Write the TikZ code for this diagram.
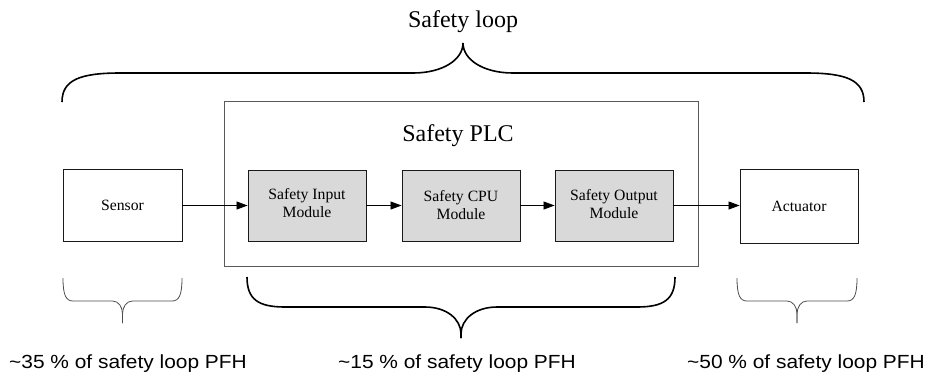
\documentclass[tikz,border=0pt]{standalone}
\usepackage{fontspec}
\setmainfont{Liberation Serif}
\newfontfamily\arialw[FakeStretch=1.1]{Liberation Sans}
\usetikzlibrary{arrows.meta}
% #1 style, #2 xl, #3 xr, #4 yend, #5 yh, #6 ytip, #7 corner dx, #8 tip dx, #9 stem
\newcommand\drawbrace[9]{%
  \pgfmathsetmacro\bxm{(#2+#3)/2}%
  \pgfmathsetmacro\bys{#6+(#5-#6)/abs(#5-#6)*#9}%
  \draw[#1] (#2,#4) .. controls (#2,{#4+(#5-#4)*0.75}) and ({#2+#7*0.3},#5) .. ({#2+#7},#5)
    -- ({\bxm-#8},#5) .. controls ({\bxm-#8*0.4},#5) and (\bxm,{#5+(\bys-#5)*0.45}) .. (\bxm,\bys) -- (\bxm,#6);
  \draw[#1] (\bxm,#6) -- (\bxm,\bys) .. controls (\bxm,{#5+(\bys-#5)*0.45}) and ({\bxm+#8*0.4},#5) .. ({\bxm+#8},#5)
    -- ({#3-#7},#5) .. controls ({#3-#7*0.3},#5) and (#3,{#4+(#5-#4)*0.75}) .. (#3,#4);
}
\tikzset{
  plain/.style={draw=black!90, line width=0.9pt, fill=white, minimum width=119pt, minimum height=72pt, inner sep=0pt,
    font=\fontsize{15.7}{18}\selectfont, align=center},
  module/.style={plain, fill=black!15, minimum width=118pt, minimum height=71pt},
  plcbox/.style={draw=black!65, line width=0.9pt, minimum width=474pt, minimum height=165pt, inner sep=0pt},
  flow/.style={-{Triangle[length=11pt,width=8pt]}, line width=0.8pt, draw=black},
  bigtext/.style={font=\fontsize{24}{28}\selectfont},
  pfh/.style={font=\arialw\fontsize{19}{22}\selectfont, inner sep=0pt},
  bracebig/.style={line width=1.6pt, black},
  bracesmall/.style={line width=0.8pt, black!70},
}
\begin{document}
\begin{tikzpicture}[x=1pt,y=-1pt]
\useasboundingbox (0,0) rectangle (928,376);
\node[bigtext] (loop) at (463,22) {Safety loop};
\drawbrace{bracebig}{62}{864}{102}{73}{43}{58}{50}{0}
\node[plcbox] (plc) at (461,183.5) {};
\node[bigtext] (plctitle) at (458,136) {Safety PLC};
\node[plain] (sensor) at (122.5,205) {Sensor};
\node[plain, minimum width=118pt, minimum height=74pt] (act) at (799,206) {Actuator};
\node[module] (in) at (307,205.5) {Safety Input\\Module\\[-12pt]};
\node[module] (cpu) at (461,205.5) {Safety CPU\\Module};
\node[module] (out) at (614,205.5) {Safety Output\\Module\\[-14pt]};
\draw[flow] (sensor.east |- 0,205.5) -- (in.west);
\draw[flow] (in) -- (cpu);
\draw[flow] (cpu) -- (out);
\draw[flow] (out.east) -- (act.west |- out.east);
\drawbrace{bracesmall}{63}{182}{278}{301}{323}{10}{10}{9}
\drawbrace{bracebig}{247}{675}{277}{307}{338}{38}{36}{4}
\drawbrace{bracesmall}{737}{857}{278}{301}{323}{10}{10}{9}
\node[pfh] (p1) at (128,364) {\textasciitilde 35 \% of safety loop PFH};
\node[pfh] (p2) at (457,364) {\textasciitilde 15 \% of safety loop PFH};
\node[pfh] (p3) at (806,364) {\textasciitilde 50 \% of safety loop PFH};
\end{tikzpicture}
\end{document}
